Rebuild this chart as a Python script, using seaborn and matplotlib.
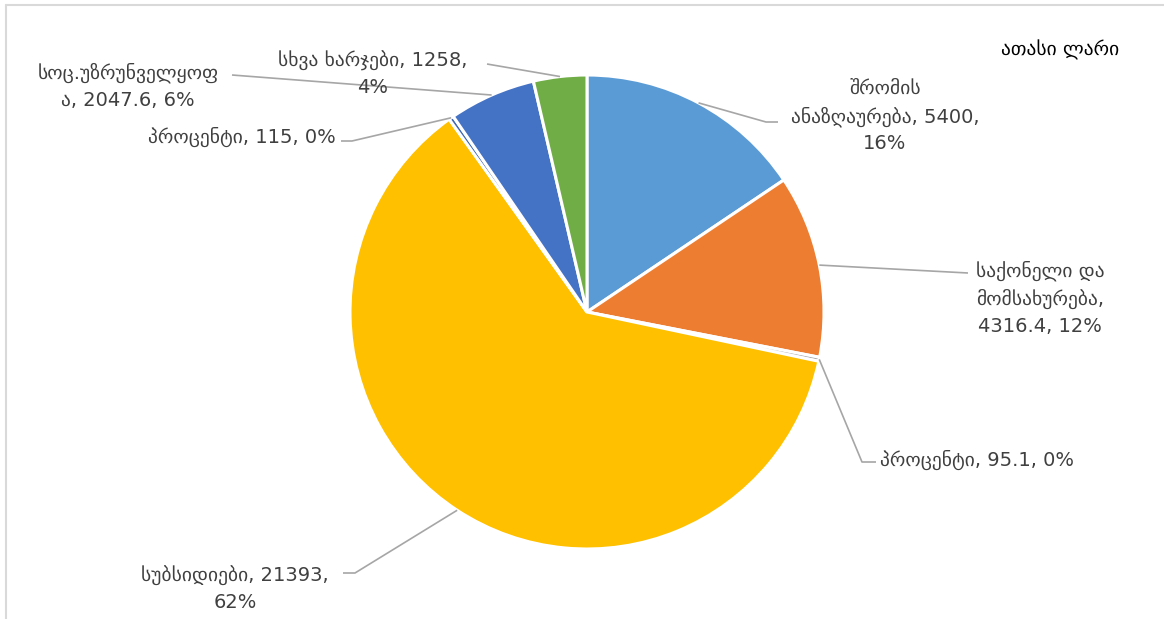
import matplotlib
matplotlib.use("Agg")
import matplotlib.pyplot as plt
import seaborn as sns
import numpy as np

sns.set_theme(style="white")
plt.rcParams['font.family'] = ['DejaVu Sans']

# ---- data ----
categories = ["შრომის ანაზღაურება", "საქონელი და მომსახურება", "პროცენტი",
              "სუბსიდიები", "პროცენტი", "სოც.უზრუნველყოფა", "სხვა ხარჯები"]
values = [5400, 4316.4, 95.1, 21393, 115, 2047.6, 1258]
value_texts = ["5400", "4316.4", "95.1", "21393", "115", "2047.6", "1258"]
colors = ["#5B9BD5", "#ED7D31", "#A5A5A5", "#FFC000", "#3F68B0", "#4472C4", "#70AD47"]
unit_label = "ათასი ლარი"

total = sum(values)
pcts = [round(v / total * 100) for v in values]

# label layout (pixel coords, y from top), with manual line breaks
label_texts = [
    f"შრომის\nანაზღაურება, {value_texts[0]},\n{pcts[0]}%",
    f"საქონელი და\nმომსახურება,\n{value_texts[1]}, {pcts[1]}%",
    f"პროცენტი, {value_texts[2]}, {pcts[2]}%",
    f"სუბსიდიები, {value_texts[3]},\n{pcts[3]}%",
    f"პროცენტი, {value_texts[4]}, {pcts[4]}%",
    f"სოც.უზრუნველყოფ\nა, {value_texts[5]}, {pcts[5]}%",
    f"სხვა ხარჯები, {value_texts[6]},\n{pcts[6]}%",
]
# (text x, text y, ha, elbow point x, elbow y, end x)
label_layout = [
    (885, 116, "center", 766, 122, 778),
    (1040, 298, "center", 968, 273, 968),
    (880, 460, "left", 862, 462, 876),
    (235, 589, "center", 355, 573, 343),
    (336, 137, "right", 352, 141, 341),
    (128, 86, "center", 232, 75, 232),
    (373, 74, "center", 487, 64, 487),
]

W, H = 1164, 619
fig = plt.figure(figsize=(W / 100, H / 100), dpi=100)
ax = fig.add_axes([0, 0, 1, 1])

cx, cy, R = 587, 312, 237
wedges, _ = ax.pie(values, colors=colors, startangle=90, counterclock=False,
                   center=(cx, H - cy), radius=R,
                   wedgeprops=dict(edgecolor="white", linewidth=2.2))
ax.set_xlim(0, W)
ax.set_ylim(0, H)
ax.set_aspect("auto")
ax.axis("off")

line_c = "#A6A6A6"
for w, txt, (tx, ty, ha, ex, ey, endx) in zip(wedges, label_texts, label_layout):
    ang = np.deg2rad((w.theta1 + w.theta2) / 2)
    px = cx + R * np.cos(ang)
    py = (H - cy) + R * np.sin(ang)
    ax.plot([px, ex, endx], [py, H - ey, H - ey], color=line_c, lw=1.2,
            solid_capstyle="butt", zorder=1)
    ax.text(tx, H - ty, txt, ha=ha, va="center", fontsize=14,
            color="#404040", linespacing=1.5, zorder=3)

ax.text(1060, H - 50, unit_label, ha="center", va="center", fontsize=14, color="black")

# chart frame
ax.plot([6, 6], [0, H - 5], color="#D9D9D9", lw=1.5, clip_on=False)
ax.plot([6, W], [H - 5, H - 5], color="#D9D9D9", lw=1.5, clip_on=False)

fig.savefig("out.png", dpi=100, facecolor="white")
